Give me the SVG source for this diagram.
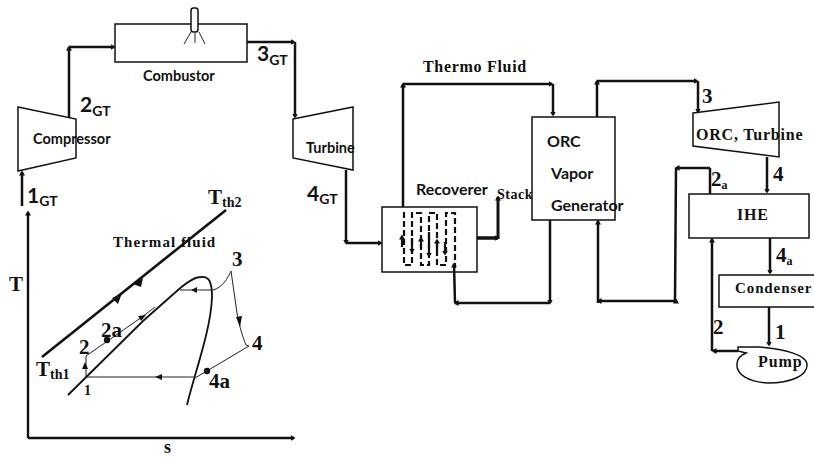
<svg xmlns="http://www.w3.org/2000/svg" width="814" height="458" viewBox="0 0 814 458">
<style>
.b{fill:#fff;stroke:#111;stroke-width:1.5}
.o{fill:none;stroke:#222;stroke-width:1}
.t{fill:none;stroke:#111;stroke-width:2.4}
.h{fill:#111;stroke:none}
text{fill:#111}
#connectors path{fill:none;stroke:#111;stroke-width:2.5;marker-end:url(#a)}
.d path{fill:none;stroke:#111;stroke-width:2.2;marker-end:url(#a)}
.c{font-family:Lato,"Open Sans",sans-serif;font-weight:700;font-size:14.5px}
.n{font-family:Lato,"Open Sans",sans-serif;font-weight:700;font-size:21px}
.n tspan{font-size:14px}
.s{font-family:"Liberation Serif",serif;font-weight:700;font-size:14px;letter-spacing:.8px}
.l{font-family:"Liberation Serif",serif;font-weight:700;font-size:21px}
.l tspan{font-size:14px}
</style>
<defs>
<marker id="a" markerWidth="7" markerHeight="7" refX="3.5" refY="3" orient="auto" markerUnits="userSpaceOnUse"><path d="M0,0L5,3L0,6Z" fill="#111"/></marker>
</defs>
<g id="compressor"><path class="b" d="M18,107L76,119V158L18,171Z"/><text class="c" x="33" y="144">Compressor</text></g>
<g id="combustor"><rect class="b" x="115" y="24" width="132" height="38"/><rect class="b" x="191" y="8" width="7" height="24" rx="2.5"/><path class="o" d="M191,32L184,44M195,33V43M199,32L205,44"/><text class="c" x="143" y="81">Combustor</text></g>
<g id="turbine"><path class="b" d="M293,119L353,107V170L293,158Z"/><text class="c" x="306" y="153">Turbine</text></g>
<g id="recoverer"><rect class="b" x="382" y="207" width="95" height="65"/>
<path fill="none" stroke="#111" stroke-width="2.2" stroke-dasharray="6 3" d="M404,212V265H412V213H421V265H429V213H437V265H446V213H455V268"/>
<g class="d"><path d="M402,247V236"/><path d="M412,238V252"/><path d="M421,248V238"/><path d="M429,232V256"/><path d="M437,250V240"/><path d="M445,242V254"/></g>
<text class="c" x="416" y="195" style="font-size:16px">Recoverer</text></g>
<g id="generator"><rect class="b" x="532" y="117" width="83" height="103"/><text class="c" x="547" y="147" style="font-size:16px">ORC</text><text class="c" x="551" y="179" style="font-size:16px">Vapor</text><text class="c" x="551" y="211" style="font-size:16px">Generator</text></g>
<g id="orc-turbine"><path class="b" d="M693,113L779,102V157L693,146Z"/><text class="s" x="696" y="140" style="font-size:16px;letter-spacing:.8px">ORC, Turbine</text></g>
<g id="ihe"><rect class="b" x="689" y="194" width="120" height="44"/><text class="s" x="737" y="220" style="font-size:16px">IHE</text></g>
<g id="condenser"><path class="b" d="M815,275H719V307H815"/><text class="s" x="735" y="293" style="font-size:15px;letter-spacing:.9px">Condenser</text></g>
<g id="pump"><path class="b" d="M738,347H759C785,349 806,355 807,364C808,376 790,383 768,383C748,382 736,374 737,364C737,358 741,355 746,353L738,351Z"/><text class="s" x="758" y="367" style="font-size:16px;letter-spacing:.9px">Pump</text></g>
<g id="connectors">
<path d="M22,206V172"/>
<path d="M69,118V47"/><path d="M69,47H114"/>
<path d="M247,42H294"/><path d="M295,42V117"/>
<path d="M346,170V243"/><path d="M346,243H381"/>
<path d="M403,207V84"/><path d="M403,84H552"/><path d="M553,84V115"/>
<path d="M477,238H498" style="stroke-width:3.5"/><path d="M498,239V197" style="stroke-width:3"/>
<path d="M550,220V303"/><path d="M550,303H455"/><path d="M455,303L454,264"/>
<path d="M676,301H598"/><path d="M598,303V221"/>
<path d="M675,301L676,168" style="marker-end:none"/><path d="M710,194V168" style="marker-end:none"/>
<path d="M710,168H676"/><path d="M676,301V300"/>
<path d="M597,117V81"/><path d="M597,81H697"/><path d="M698,81V112"/>
<path d="M767,157V192"/>
<path d="M770,238V273"/>
<path d="M769,307V345"/>
<path d="M738,351H713"/><path d="M712,351V239"/>
</g>
<g id="ts-diagram">
<path class="t" d="M28,438V212" marker-end="url(#a)"/>
<path class="t" d="M28,438H294" marker-end="url(#a)"/>
<path d="M42,357L226,210" fill="none" stroke="#111" stroke-width="2.6"/>
<path class="h" d="M112,298L122,293L118,304ZM133,284L143,278L141,287Z"/>
<path d="M68,395L143,321L178,290C186,283 194,277 201,277C209,276 212,282 212,297C211,330 194,375 187,405" fill="none" stroke="#111" stroke-width="1.8"/>
<path class="o" d="M86,377V356L142,317L155,307"/>
<path class="o" d="M180,290H213C222,288 228,278 231,271L237,313C239,325 243,338 246,345L249,346L195,378"/>
<path class="o" d="M86,377H195"/>
<circle class="h" cx="107" cy="340" r="3.2"/><circle class="h" cx="207" cy="371" r="3.2"/>
<path class="h" d="M146,315L138,316L141,321ZM191,290L197,287V293ZM155,377L162,374V380ZM85,362L82,369H88ZM240,327L236,317L242,316Z"/>
<text class="l" x="208" y="204">T<tspan dy="3">th2</tspan></text>
<text class="s" x="113" y="247" style="font-size:15px;letter-spacing:1.05px">Thermal fluid</text>
<text class="l" x="232" y="266">3</text>
<text class="l" x="9" y="291">T</text>
<text class="l" x="252" y="350">4</text>
<text class="l" x="101" y="337">2a</text>
<text class="l" x="79" y="354">2</text>
<text class="l" x="36" y="376">T<tspan dy="3">th1</tspan></text>
<text class="s" x="84" y="395">1</text>
<text class="l" x="209" y="388">4a</text>
<text class="l" x="164" y="453" style="font-size:18px">s</text>
</g>
<g id="labels">
<text class="n" x="80" y="112">2<tspan dy="4">GT</tspan></text>
<text class="n" x="257" y="61">3<tspan dy="4">GT</tspan></text>
<text class="n" x="27" y="203">1<tspan dy="3">GT</tspan></text>
<text class="n" x="307" y="201">4<tspan dy="3">GT</tspan></text>
<text class="s" x="423" y="72" style="font-size:16px;letter-spacing:.7px">Thermo Fluid</text>
<text class="s" x="497" y="199" style="letter-spacing:.5px">Stack</text>
<text class="l" x="702" y="103">3</text>
<text class="l" x="773" y="181">4</text>
<text class="l" x="711" y="186">2<tspan dy="3" style="font-size:12px">a</tspan></text>
<text class="l" x="776" y="262">4<tspan dy="3" style="font-size:12px">a</tspan></text>
<text class="l" x="713" y="334">2</text>
<text class="l" x="775" y="339">1</text>
</g>
</svg>
